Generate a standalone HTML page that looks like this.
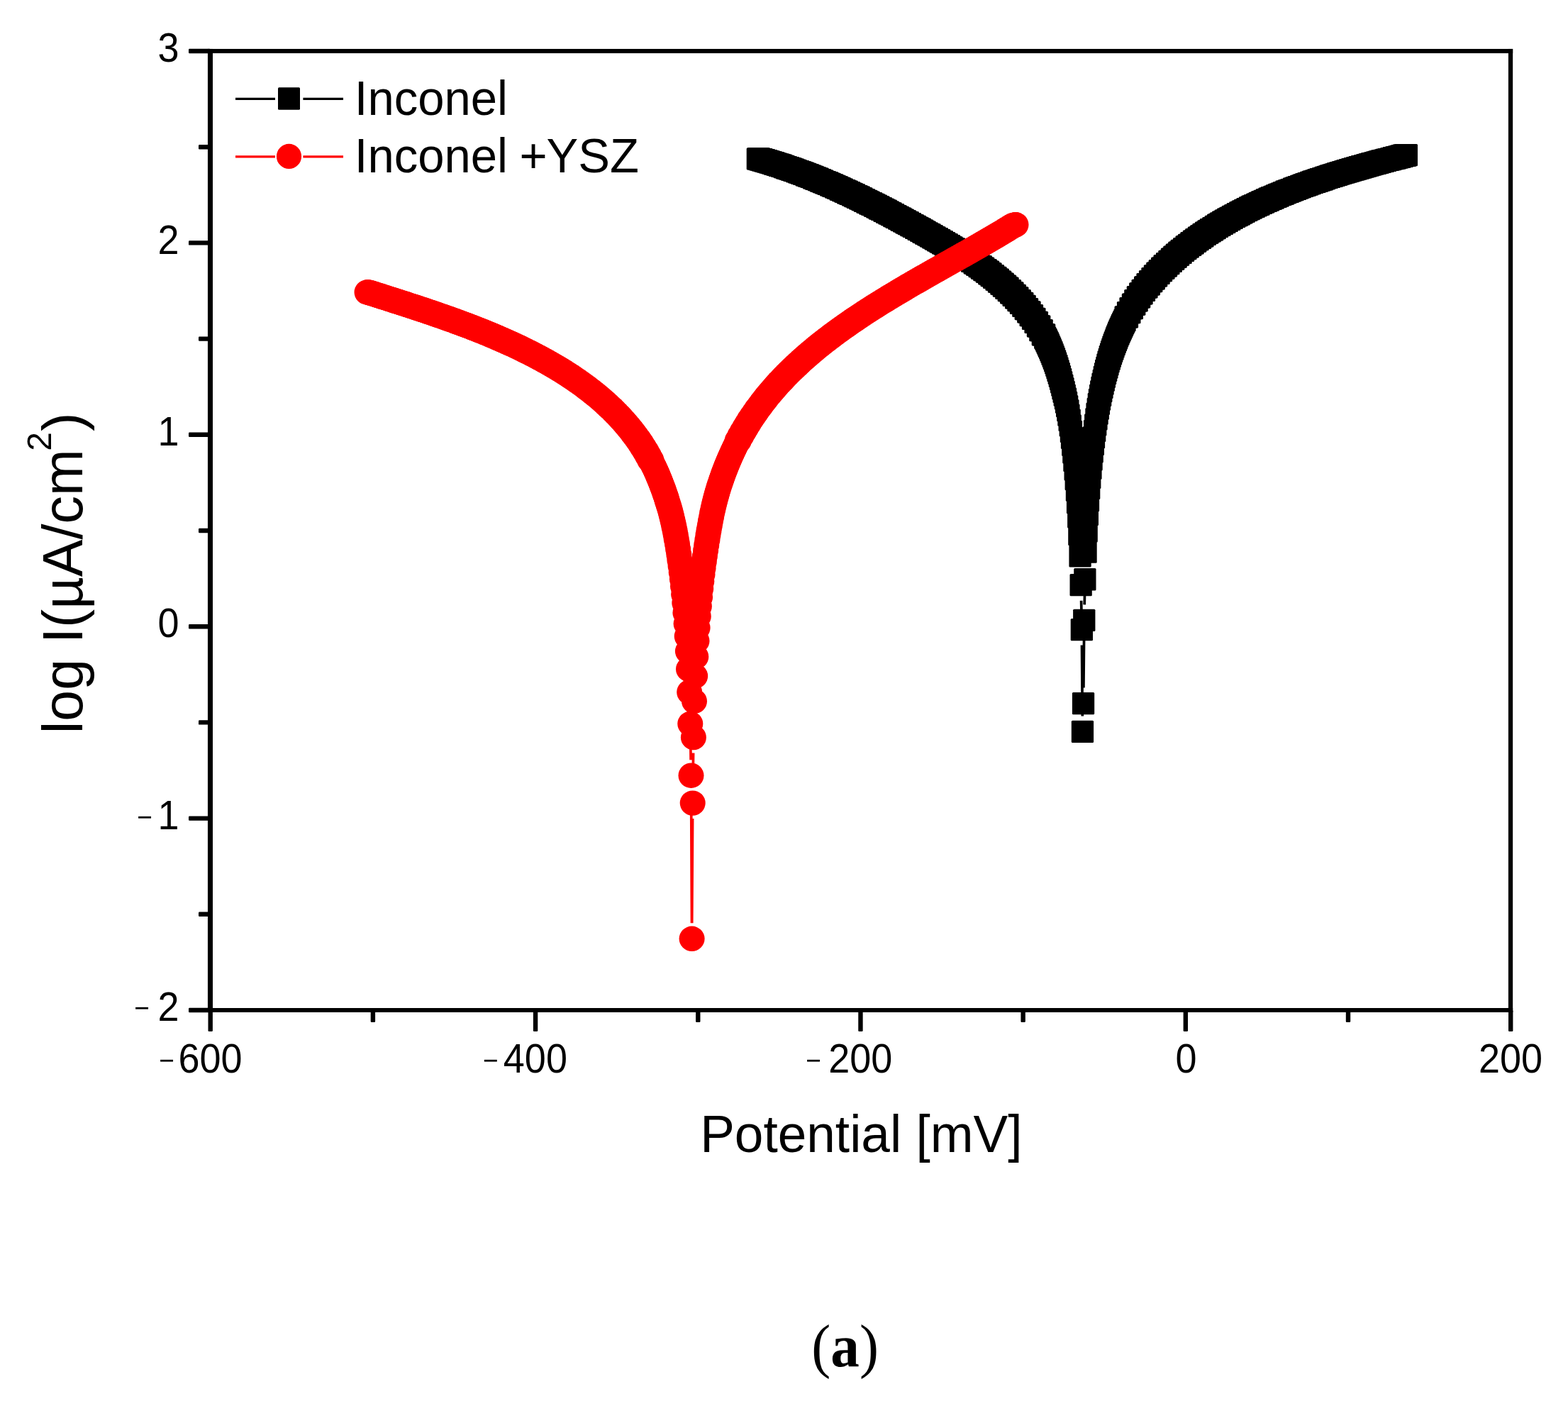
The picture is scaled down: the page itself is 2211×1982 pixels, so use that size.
<!DOCTYPE html>
<html lang="en"><head><meta charset="utf-8"><title>Potentiodynamic polarization curves</title>
<style>html,body{margin:0;padding:0;background:#fff}body{width:2211px;height:1982px;overflow:hidden}svg{display:block}text{font-family:"Liberation Sans",Arial,Helvetica,sans-serif;fill:#000}.t{font-size:54px}.lg{font-size:67px}.mn{font-size:37px}.ser{font-family:"Liberation Serif","Times New Roman",serif}</style></head><body>
<svg width="2211" height="1982" viewBox="0 0 2211 1982">
<rect width="2211" height="1982" fill="#fff"/>
<defs><marker id="sq" markerUnits="userSpaceOnUse" markerWidth="31.3" markerHeight="31.3" refX="15.7" refY="15.7" overflow="visible"><rect width="31.3" height="31.3" rx="1.5" fill="#000"/></marker><marker id="ci" markerUnits="userSpaceOnUse" markerWidth="36" markerHeight="36" refX="18" refY="18" overflow="visible"><ellipse cx="18" cy="18" rx="18" ry="17.7" fill="#f00"/></marker></defs>
<g id="black-series">
<path d="M1524.6 846.7L1525 865.6 M1525.5 909.6L1526.3 1009.5 M1527.9 969.6L1528.6 896.4 M1529.2 852.4L1529.5 838.8" stroke="#000" stroke-width="3.7" fill="none"/>
<polyline points="1068.4,223.9 1069.6,223.9 1070.7,223.9 1071.9,224.8 1073,224.8 1074.1,224.8 1075.3,225.8 1076.4,225.8 1077.6,225.8 1078.7,226.8 1079.9,226.8 1081,226.8 1082.2,227.9 1083.3,227.9 1084.5,227.9 1085.6,228.9 1086.7,228.9 1087.9,228.9 1089,230 1090.2,230 1091.3,230 1092.5,231.1 1093.6,231.1 1094.8,231.1 1095.9,232.2 1097,232.2 1098.2,232.2 1099.3,233.3 1100.5,233.3 1101.6,233.3 1102.8,234.4 1103.9,234.4 1105.1,234.4 1106.2,235.6 1107.4,235.6 1108.5,235.6 1109.6,236.8 1110.8,236.8 1111.9,236.8 1113.1,238 1114.2,238 1115.4,238 1116.5,239.2 1117.7,239.2 1118.8,239.2 1120,240.4 1121.1,240.4 1122.2,240.4 1123.4,241.7 1124.5,241.7 1125.7,241.7 1126.8,242.9 1128,242.9 1129.1,242.9 1130.3,244.2 1131.4,244.2 1132.6,244.2 1133.7,245.5 1134.8,245.5 1136,245.5 1137.1,246.8 1138.3,246.8 1139.4,246.8 1140.6,248.2 1141.7,248.2 1142.9,248.2 1144,249.5 1145.1,249.5 1146.3,249.5 1147.4,250.9 1148.6,250.9 1149.7,250.9 1150.9,252.3 1152,252.3 1153.2,252.3 1154.3,253.7 1155.5,253.7 1156.6,253.7 1157.7,255.1 1158.9,255.1 1160,255.1 1161.2,256.6 1162.3,256.6 1163.5,256.6 1164.6,258 1165.8,258 1166.9,258 1168.1,259.5 1169.2,259.5 1170.3,259.5 1171.5,261 1172.6,261 1173.8,261 1174.9,262.5 1176.1,262.5 1177.2,262.5 1178.4,264 1179.5,264 1180.6,264 1181.8,265.5 1182.9,265.5 1184.1,265.5 1185.2,267.1 1186.4,267.1 1187.5,267.1 1188.7,268.6 1189.8,268.6 1191,268.6 1192.1,270.2 1193.2,270.2 1194.4,270.2 1195.5,271.8 1196.7,271.8 1197.8,271.8 1199,273.4 1200.1,273.4 1201.3,273.4 1202.4,275 1203.6,275 1204.7,275 1205.8,276.7 1207,276.7 1208.1,276.7 1209.3,278.3 1210.4,278.3 1211.6,278.3 1212.7,280 1213.9,280 1215,280 1216.2,281.7 1217.3,281.7 1218.4,281.7 1219.6,283.4 1220.7,283.4 1221.9,283.4 1223,285.1 1224.2,285.1 1225.3,285.1 1226.5,286.8 1227.6,286.8 1228.7,286.8 1229.9,288.5 1231,288.5 1232.2,288.5 1233.3,290.2 1234.5,290.2 1235.6,290.2 1236.8,292 1237.9,292 1239.1,292 1240.2,293.8 1241.3,293.8 1242.5,293.8 1243.6,295.5 1244.8,295.5 1245.9,295.5 1247.1,297.3 1248.2,297.3 1249.4,297.3 1250.5,299.1 1251.7,299.1 1252.8,299.1 1253.9,300.9 1255.1,300.9 1256.2,300.9 1257.4,302.7 1258.5,302.7 1259.7,302.7 1260.8,304.6 1262,304.6 1263.1,304.6 1264.2,306.4 1265.4,306.4 1266.5,306.4 1267.7,308.2 1268.8,308.2 1270,308.2 1271.1,310.1 1272.3,310.1 1273.4,310.1 1274.6,312 1275.7,312 1276.8,312 1278,313.8 1279.1,313.8 1280.3,313.8 1281.4,315.7 1282.6,315.7 1283.7,315.7 1284.9,317.6 1286,317.6 1287.2,317.6 1288.3,319.5 1289.4,319.5 1290.6,319.5 1291.7,321.4 1292.9,321.4 1294,321.4 1295.2,323.3 1296.3,323.3 1297.5,323.3 1298.6,325.2 1299.8,325.2 1300.9,325.2 1302,327.1 1303.2,327.1 1304.3,327.1 1305.5,329.1 1306.6,329.1 1307.8,329.1 1308.9,331 1310.1,331 1311.2,331 1312.3,332.9 1313.5,332.9 1314.6,332.9 1315.8,334.9 1316.9,334.9 1318.1,334.9 1319.2,336.8 1320.4,336.8 1321.5,336.8 1322.7,338.8 1323.8,338.8 1324.9,338.8 1326.1,340.8 1327.2,340.8 1328.4,340.8 1329.5,342.8 1330.7,342.8 1331.8,342.8 1333,344.8 1334.1,344.8 1335.3,344.8 1336.4,346.8 1337.5,346.8 1338.7,346.8 1339.8,348.9 1341,348.9 1342.1,348.9 1343.3,350.9 1344.4,350.9 1345.6,350.9 1346.7,353 1347.8,353 1349,353 1350.1,355.1 1351.3,355.1 1352.4,355.1 1353.6,357.3 1354.7,357.3 1355.9,357.3 1357,359.4 1358.2,359.4 1359.3,359.4 1360.4,361.6 1361.6,361.6 1362.7,361.6 1363.9,363.9 1365,363.9 1366.2,363.9 1367.3,366.1 1368.5,366.1 1369.6,366.1 1370.8,368.4 1371.9,368.4 1373,368.4 1374.2,370.8 1375.3,370.8 1376.5,370.8 1377.6,373.2 1378.8,373.2 1379.9,373.2 1381.1,375.6 1382.2,375.6 1383.3,375.6 1384.5,378.1 1385.6,378.1 1386.8,378.1 1387.9,380.6 1389.1,380.6 1390.2,380.6 1391.4,383.2 1392.5,383.2 1393.7,383.2 1394.8,385.9 1395.9,385.9 1397.1,385.9 1398.2,388.6 1399.4,388.6 1400.5,388.6 1401.7,391.4 1402.8,391.4 1404,391.4 1405.1,394.2 1406.3,394.2 1407.4,394.2 1408.5,397.1 1409.7,397.1 1410.8,397.1 1412,400.1 1413.1,400.1 1414.3,400.1 1415.4,403.2 1416.6,403.2 1417.7,403.2 1418.9,406.3 1420,406.3 1421.1,406.3 1422.3,409.6 1423.4,409.6 1424.6,409.6 1425.7,413 1426.9,413 1428,413 1429.2,416.4 1430.3,416.4 1431.4,416.4 1432.6,420 1433.7,420 1434.9,420 1436,423.7 1437.2,423.7 1438.3,423.7 1439.5,427.5 1440.6,427.5 1441.8,427.5 1442.9,431.5 1444,431.5 1445.2,431.5 1446.3,435.7 1447.5,435.7 1448.6,435.7 1449.8,440 1450.9,440 1452.1,440 1453.2,444.6 1454.4,444.6 1455.5,444.6 1456.6,449.4 1457.8,449.4 1458.9,449.4 1460.1,454.5 1461.2,454.5 1462.4,454.5 1463.5,459.9 1464.7,459.9 1465.8,459.9 1466.9,465.7 1468.1,465.7 1469.2,465.7 1470.4,471.9 1471.5,471.9 1472.7,471.9 1473.8,476.3 1475,478.5 1476.1,480.9 1477.3,483.3 1478.4,485.8 1479.5,488.4 1480.7,491 1481.8,493.7 1483,496.5 1484.1,499.4 1485.3,502.4 1486.4,505.5 1487.6,508.7 1488.7,512 1489.9,515.4 1491,519 1492.1,522.7 1493.3,526.5 1494.4,530.4 1495.6,534.5 1496.7,538.8 1497.9,543.2 1499,547.8 1500.2,552.5 1501.3,557.2 1502.5,562 1503.6,567.2 1504.7,572.7 1505.9,578.7 1507,585.2 1508.2,592.3 1509.3,600 1510.5,608.4 1511.6,617.5 1512.8,627.4 1513.9,638 1515,649.4 1516.2,661.9 1517.3,675.7 1518.5,691.1 1519.6,708.7 1520.8,729 1521.9,753.3 1523.1,783.8 1524.2,824.7 1525.4,887.6 1526.5,1031.5 1527.6,991.6 1528.8,874.4 1529.9,816.8 1531.1,778.1 1532.2,748.9 1533.4,725.3 1534.5,705.6 1535.7,688.4 1536.8,673.4 1538,660.1 1539.1,648 1540.2,636.9 1541.4,626.5 1542.5,616.7 1543.7,607.5 1544.8,598.9 1546,590.8 1547.1,583.2 1548.3,576.1 1549.4,569.4 1550.5,563.2 1551.7,557.3 1552.8,551.7 1554,546.3 1555.1,541.1 1556.3,536.1 1557.4,531.3 1558.6,526.7 1559.7,522.3 1560.9,518.1 1562,514 1563.1,510 1564.3,506.2 1565.4,502.5 1566.6,499 1567.7,495.5 1568.9,492.2 1570,488.9 1571.2,485.7 1572.3,482.7 1573.5,479.7 1574.6,476.8 1575.7,473.9 1576.9,471.2 1578,468.5 1579.2,465.8 1580.3,463.3 1581.5,460.8 1582.6,458.3 1583.8,455.9 1584.9,453.6 1586.1,451.3 1587.2,446.9 1588.3,446.9 1589.5,446.9 1590.6,440.6 1591.8,440.6 1592.9,440.6 1594.1,434.7 1595.2,434.7 1596.4,434.7 1597.5,429.1 1598.6,429.1 1599.8,429.1 1600.9,423.8 1602.1,423.8 1603.2,423.8 1604.4,418.8 1605.5,418.8 1606.7,418.8 1607.8,414 1609,414 1610.1,414 1611.2,409.4 1612.4,409.4 1613.5,409.4 1614.7,405 1615.8,405 1617,405 1618.1,400.8 1619.3,400.8 1620.4,400.8 1621.6,396.7 1622.7,396.7 1623.8,396.7 1625,392.8 1626.1,392.8 1627.3,392.8 1628.4,389 1629.6,389 1630.7,389 1631.9,385.3 1633,385.3 1634.1,385.3 1635.3,381.7 1636.4,381.7 1637.6,381.7 1638.7,378.2 1639.9,378.2 1641,378.2 1642.2,374.8 1643.3,374.8 1644.5,374.8 1645.6,371.6 1646.7,371.6 1647.9,371.6 1649,368.4 1650.2,368.4 1651.3,368.4 1652.5,365.2 1653.6,365.2 1654.8,365.2 1655.9,362.2 1657.1,362.2 1658.2,362.2 1659.3,359.2 1660.5,359.2 1661.6,359.2 1662.8,356.3 1663.9,356.3 1665.1,356.3 1666.2,353.5 1667.4,353.5 1668.5,353.5 1669.7,350.7 1670.8,350.7 1671.9,350.7 1673.1,348 1674.2,348 1675.4,348 1676.5,345.4 1677.7,345.4 1678.8,345.4 1680,342.8 1681.1,342.8 1682.2,342.8 1683.4,340.2 1684.5,340.2 1685.7,340.2 1686.8,337.7 1688,337.7 1689.1,337.7 1690.3,335.3 1691.4,335.3 1692.6,335.3 1693.7,332.9 1694.8,332.9 1696,332.9 1697.1,330.5 1698.3,330.5 1699.4,330.5 1700.6,328.2 1701.7,328.2 1702.9,328.2 1704,326 1705.2,326 1706.3,326 1707.4,323.8 1708.6,323.8 1709.7,323.8 1710.9,321.6 1712,321.6 1713.2,321.6 1714.3,319.4 1715.5,319.4 1716.6,319.4 1717.7,317.3 1718.9,317.3 1720,317.3 1721.2,315.3 1722.3,315.3 1723.5,315.3 1724.6,313.3 1725.8,313.3 1726.9,313.3 1728.1,311.3 1729.2,311.3 1730.3,311.3 1731.5,309.3 1732.6,309.3 1733.8,309.3 1734.9,307.4 1736.1,307.4 1737.2,307.4 1738.4,305.5 1739.5,305.5 1740.7,305.5 1741.8,303.6 1742.9,303.6 1744.1,303.6 1745.2,301.8 1746.4,301.8 1747.5,301.8 1748.7,300 1749.8,300 1751,300 1752.1,298.2 1753.2,298.2 1754.4,298.2 1755.5,296.4 1756.7,296.4 1757.8,296.4 1759,294.7 1760.1,294.7 1761.3,294.7 1762.4,293 1763.6,293 1764.7,293 1765.8,291.3 1767,291.3 1768.1,291.3 1769.3,289.7 1770.4,289.7 1771.6,289.7 1772.7,288.1 1773.9,288.1 1775,288.1 1776.2,286.5 1777.3,286.5 1778.4,286.5 1779.6,284.9 1780.7,284.9 1781.9,284.9 1783,283.4 1784.2,283.4 1785.3,283.4 1786.5,281.8 1787.6,281.8 1788.8,281.8 1789.9,280.3 1791,280.3 1792.2,280.3 1793.3,278.8 1794.5,278.8 1795.6,278.8 1796.8,277.4 1797.9,277.4 1799.1,277.4 1800.2,275.9 1801.3,275.9 1802.5,275.9 1803.6,274.5 1804.8,274.5 1805.9,274.5 1807.1,273.1 1808.2,273.1 1809.4,273.1 1810.5,271.7 1811.7,271.7 1812.8,271.7 1813.9,270.3 1815.1,270.3 1816.2,270.3 1817.4,269 1818.5,269 1819.7,269 1820.8,267.6 1822,267.6 1823.1,267.6 1824.3,266.3 1825.4,266.3 1826.5,266.3 1827.7,265 1828.8,265 1830,265 1831.1,263.7 1832.3,263.7 1833.4,263.7 1834.6,262.4 1835.7,262.4 1836.8,262.4 1838,261.2 1839.1,261.2 1840.3,261.2 1841.4,259.9 1842.6,259.9 1843.7,259.9 1844.9,258.7 1846,258.7 1847.2,258.7 1848.3,257.5 1849.4,257.5 1850.6,257.5 1851.7,256.3 1852.9,256.3 1854,256.3 1855.2,255.1 1856.3,255.1 1857.5,255.1 1858.6,253.9 1859.8,253.9 1860.9,253.9 1862,252.8 1863.2,252.8 1864.3,252.8 1865.5,251.6 1866.6,251.6 1867.8,251.6 1868.9,250.5 1870.1,250.5 1871.2,250.5 1872.4,249.4 1873.5,249.4 1874.6,249.4 1875.8,248.3 1876.9,248.3 1878.1,248.3 1879.2,247.2 1880.4,247.2 1881.5,247.2 1882.7,246.1 1883.8,246.1 1884.9,246.1 1886.1,245 1887.2,245 1888.4,245 1889.5,244 1890.7,244 1891.8,244 1893,242.9 1894.1,242.9 1895.3,242.9 1896.4,241.9 1897.5,241.9 1898.7,241.9 1899.8,240.8 1901,240.8 1902.1,240.8 1903.3,239.8 1904.4,239.8 1905.6,239.8 1906.7,238.8 1907.9,238.8 1909,238.8 1910.1,237.8 1911.3,237.8 1912.4,237.8 1913.6,236.8 1914.7,236.8 1915.9,236.8 1917,235.8 1918.2,235.8 1919.3,235.8 1920.4,234.8 1921.6,234.8 1922.7,234.8 1923.9,233.9 1925,233.9 1926.2,233.9 1927.3,232.9 1928.5,232.9 1929.6,232.9 1930.8,232 1931.9,232 1933,232 1934.2,231 1935.3,231 1936.5,231 1937.6,230.1 1938.8,230.1 1939.9,230.1 1941.1,229.1 1942.2,229.1 1943.4,229.1 1944.5,228.2 1945.6,228.2 1946.8,228.2 1947.9,227.3 1949.1,227.3 1950.2,227.3 1951.4,226.4 1952.5,226.4 1953.7,226.4 1954.8,225.5 1956,225.5 1957.1,225.5 1958.2,224.6 1959.4,224.6 1960.5,224.6 1961.7,223.7 1962.8,223.7 1964,223.7 1965.1,222.8 1966.3,222.8 1967.4,222.8 1968.5,221.9 1969.7,221.9 1970.8,221.9 1972,221.1 1973.1,221.1 1974.3,221.1 1975.4,220.2 1976.6,220.2 1977.7,220.2 1978.9,219.3 1980,219.3 1981.1,219.3 1982.3,218.7 1983.4,218.7" fill="none" stroke="none" marker-start="url(#sq)" marker-mid="url(#sq)" marker-end="url(#sq)"/>
</g>
<g id="red-series">
<path d="M972.7 997.7L972.7 998.3 M973.7 1042.3L974.1 1071.2 M974.6 1115.2L975.5 1301.3 M975.7 1301.3L976.6 1154.1 M977 1110.1L977.6 1061.6 M978.4 1017.6L978.5 1010.5" stroke="#f00" stroke-width="3.7" fill="none"/>
<polyline points="517.5,412 518.7,412 519.8,412 521,412.8 522.1,412.8 523.2,412.8 524.4,413.9 525.5,413.9 526.7,413.9 527.8,415 529,415 530.1,415 531.3,416.1 532.4,416.1 533.6,416.1 534.7,417.2 535.8,417.2 537,417.2 538.1,418.3 539.3,418.3 540.4,418.3 541.6,419.4 542.7,419.4 543.9,419.4 545,420.5 546.2,420.5 547.3,420.5 548.4,421.6 549.6,421.6 550.7,421.6 551.9,422.7 553,422.7 554.2,422.7 555.3,423.8 556.5,423.8 557.6,423.8 558.7,424.9 559.9,424.9 561,424.9 562.2,426 563.3,426 564.5,426 565.6,427.1 566.8,427.1 567.9,427.1 569.1,428.2 570.2,428.2 571.3,428.2 572.5,429.3 573.6,429.3 574.8,429.3 575.9,430.5 577.1,430.5 578.2,430.5 579.4,431.6 580.5,431.6 581.7,431.6 582.8,432.7 583.9,432.7 585.1,432.7 586.2,433.8 587.4,433.8 588.5,433.8 589.7,435 590.8,435 592,435 593.1,436.1 594.2,436.1 595.4,436.1 596.5,437.2 597.7,437.2 598.8,437.2 600,438.4 601.1,438.4 602.3,438.4 603.4,439.6 604.6,439.6 605.7,439.6 606.8,440.7 608,440.7 609.1,440.7 610.3,441.9 611.4,441.9 612.6,441.9 613.7,443.1 614.9,443.1 616,443.1 617.2,444.3 618.3,444.3 619.4,444.3 620.6,445.5 621.7,445.5 622.9,445.5 624,446.7 625.2,446.7 626.3,446.7 627.5,447.9 628.6,447.9 629.7,447.9 630.9,449.1 632,449.1 633.2,449.1 634.3,450.3 635.5,450.3 636.6,450.3 637.8,451.5 638.9,451.5 640.1,451.5 641.2,452.8 642.3,452.8 643.5,452.8 644.6,454.1 645.8,454.1 646.9,454.1 648.1,455.3 649.2,455.3 650.4,455.3 651.5,456.6 652.7,456.6 653.8,456.6 654.9,457.9 656.1,457.9 657.2,457.9 658.4,459.2 659.5,459.2 660.7,459.2 661.8,460.5 663,460.5 664.1,460.5 665.3,461.8 666.4,461.8 667.5,461.8 668.7,463.2 669.8,463.2 671,463.2 672.1,464.5 673.3,464.5 674.4,464.5 675.6,465.9 676.7,465.9 677.8,465.9 679,467.2 680.1,467.2 681.3,467.2 682.4,468.6 683.6,468.6 684.7,468.6 685.9,470 687,470 688.2,470 689.3,471.4 690.4,471.4 691.6,471.4 692.7,472.9 693.9,472.9 695,472.9 696.2,474.3 697.3,474.3 698.5,474.3 699.6,475.8 700.8,475.8 701.9,475.8 703,477.3 704.2,477.3 705.3,477.3 706.5,478.8 707.6,478.8 708.8,478.8 709.9,480.3 711.1,480.3 712.2,480.3 713.3,481.8 714.5,481.8 715.6,481.8 716.8,483.4 717.9,483.4 719.1,483.4 720.2,484.9 721.4,484.9 722.5,484.9 723.7,486.5 724.8,486.5 725.9,486.5 727.1,488.1 728.2,488.1 729.4,488.1 730.5,489.7 731.7,489.7 732.8,489.7 734,491.4 735.1,491.4 736.3,491.4 737.4,493.1 738.5,493.1 739.7,493.1 740.8,494.8 742,494.8 743.1,494.8 744.3,496.5 745.4,496.5 746.6,496.5 747.7,498.2 748.9,498.2 750,498.2 751.1,500 752.3,500 753.4,500 754.6,501.8 755.7,501.8 756.9,501.8 758,503.6 759.2,503.6 760.3,503.6 761.4,505.4 762.6,505.4 763.7,505.4 764.9,507.3 766,507.3 767.2,507.3 768.3,509.2 769.5,509.2 770.6,509.2 771.8,511.1 772.9,511.1 774,511.1 775.2,513.1 776.3,513.1 777.5,513.1 778.6,515.1 779.8,515.1 780.9,515.1 782.1,517.1 783.2,517.1 784.4,517.1 785.5,519.1 786.6,519.1 787.8,519.1 788.9,521.2 790.1,521.2 791.2,521.2 792.4,523.3 793.5,523.3 794.7,523.3 795.8,525.5 796.9,525.5 798.1,525.5 799.2,527.7 800.4,527.7 801.5,527.7 802.7,529.9 803.8,529.9 805,529.9 806.1,532.2 807.3,532.2 808.4,532.2 809.5,534.6 810.7,534.6 811.8,534.6 813,536.9 814.1,536.9 815.3,536.9 816.4,539.3 817.6,539.3 818.7,539.3 819.9,541.8 821,541.8 822.1,541.8 823.3,544.3 824.4,544.3 825.6,544.3 826.7,546.9 827.9,546.9 829,546.9 830.2,549.5 831.3,549.5 832.5,549.5 833.6,552.2 834.7,552.2 835.9,552.2 837,554.9 838.2,554.9 839.3,554.9 840.5,557.7 841.6,557.7 842.8,557.7 843.9,560.6 845,560.6 846.2,560.6 847.3,563.6 848.5,563.6 849.6,563.6 850.8,566.6 851.9,566.6 853.1,566.6 854.2,569.7 855.4,569.7 856.5,569.7 857.6,572.9 858.8,572.9 859.9,572.9 861.1,576.1 862.2,576.1 863.4,576.1 864.5,579.5 865.7,579.5 866.8,579.5 868,583 869.1,583 870.2,583 871.4,586.5 872.5,586.5 873.7,586.5 874.8,590.2 876,590.2 877.1,590.2 878.3,594 879.4,594 880.5,594 881.7,598 882.8,598 884,598 885.1,602.1 886.3,602.1 887.4,602.1 888.6,606.3 889.7,606.3 890.9,606.3 892,610.7 893.1,610.7 894.3,610.7 895.4,615.3 896.6,615.3 897.7,615.3 898.9,620.1 900,620.1 901.2,620.1 902.3,625.1 903.5,625.1 904.6,625.1 905.7,630.4 906.9,630.4 908,630.4 909.2,636 910.3,636 911.5,636 912.6,641.9 913.8,641.9 914.9,641.9 916,648.2 917.2,648.2 918.3,648.2 919.5,652.6 920.6,654.9 921.8,657.2 922.9,659.6 924.1,662 925.2,664.5 926.4,667.1 927.5,669.7 928.6,672.4 929.8,675.2 930.9,678 932.1,680.9 933.2,683.9 934.4,687 935.5,690.1 936.7,693.4 937.8,696.7 939,700.1 940.1,703.6 941.2,707.2 942.4,710.9 943.5,714.6 944.7,718.6 945.8,722.8 947,727.3 948.1,732 949.3,737 950.4,742.3 951.6,747.9 952.7,753.9 953.8,760.3 955,767 956.1,774.1 957.3,781.6 958.4,789.5 959.6,797.9 960.7,806.7 961.9,816.2 963,826.5 964.1,837.7 965.3,850.1 966.4,863.8 967.6,879.3 968.7,897.1 969.9,918 971,943.3 972.2,975.7 973.3,1020.3 974.5,1093.2 975.6,1323.3 976.7,1132.1 977.9,1039.6 979,988.5 980.2,953 981.3,925.7 982.5,903.5 983.6,884.9 984.8,868.7 985.9,854.4 987.1,841.7 988.2,830.1 989.3,819.5 990.5,809.8 991.6,800.7 992.8,792.1 993.9,783.9 995.1,776 996.2,768.4 997.4,761 998.5,754 999.6,747.2 1000.8,740.8 1001.9,734.6 1003.1,728.7 1004.2,723.1 1005.4,717.8 1006.5,712.8 1007.7,708 1008.8,703.5 1010,699.2 1011.1,695.2 1012.2,691.4 1013.4,687.7 1014.5,684.1 1015.7,680.7 1016.8,677.3 1018,674 1019.1,670.8 1020.3,667.6 1021.4,664.6 1022.6,661.6 1023.7,658.6 1024.8,655.8 1026,653 1027.1,650.2 1028.3,647.5 1029.4,644.9 1030.6,642.3 1031.7,639.7 1032.9,637.3 1034,634.8 1035.2,632.4 1036.3,630.1 1037.4,627.7 1038.6,625.5 1039.7,621 1040.9,621 1042,621 1043.2,614.6 1044.3,614.6 1045.5,614.6 1046.6,608.5 1047.7,608.5 1048.9,608.5 1050,602.7 1051.2,602.7 1052.3,602.7 1053.5,597 1054.6,597 1055.8,597 1056.9,591.6 1058.1,591.6 1059.2,591.6 1060.3,586.4 1061.5,586.4 1062.6,586.4 1063.8,581.4 1064.9,581.4 1066.1,581.4 1067.2,576.6 1068.4,576.6 1069.5,576.6 1070.7,571.9 1071.8,571.9 1072.9,571.9 1074.1,567.3 1075.2,567.3 1076.4,567.3 1077.5,562.9 1078.7,562.9 1079.8,562.9 1081,558.6 1082.1,558.6 1083.2,558.6 1084.4,554.5 1085.5,554.5 1086.7,554.5 1087.8,550.4 1089,550.4 1090.1,550.4 1091.3,546.5 1092.4,546.5 1093.6,546.5 1094.7,542.6 1095.8,542.6 1097,542.6 1098.1,538.8 1099.3,538.8 1100.4,538.8 1101.6,535.2 1102.7,535.2 1103.9,535.2 1105,531.6 1106.2,531.6 1107.3,531.6 1108.4,528 1109.6,528 1110.7,528 1111.9,524.6 1113,524.6 1114.2,524.6 1115.3,521.2 1116.5,521.2 1117.6,521.2 1118.8,517.9 1119.9,517.9 1121,517.9 1122.2,514.7 1123.3,514.7 1124.5,514.7 1125.6,511.5 1126.8,511.5 1127.9,511.5 1129.1,508.3 1130.2,508.3 1131.3,508.3 1132.5,505.3 1133.6,505.3 1134.8,505.3 1135.9,502.2 1137.1,502.2 1138.2,502.2 1139.4,499.3 1140.5,499.3 1141.7,499.3 1142.8,496.3 1143.9,496.3 1145.1,496.3 1146.2,493.5 1147.4,493.5 1148.5,493.5 1149.7,490.6 1150.8,490.6 1152,490.6 1153.1,487.8 1154.3,487.8 1155.4,487.8 1156.5,485.1 1157.7,485.1 1158.8,485.1 1160,482.3 1161.1,482.3 1162.3,482.3 1163.4,479.7 1164.6,479.7 1165.7,479.7 1166.8,477 1168,477 1169.1,477 1170.3,474.4 1171.4,474.4 1172.6,474.4 1173.7,471.8 1174.9,471.8 1176,471.8 1177.2,469.3 1178.3,469.3 1179.4,469.3 1180.6,466.8 1181.7,466.8 1182.9,466.8 1184,464.3 1185.2,464.3 1186.3,464.3 1187.5,461.8 1188.6,461.8 1189.8,461.8 1190.9,459.4 1192,459.4 1193.2,459.4 1194.3,457 1195.5,457 1196.6,457 1197.8,454.6 1198.9,454.6 1200.1,454.6 1201.2,452.2 1202.3,452.2 1203.5,452.2 1204.6,449.9 1205.8,449.9 1206.9,449.9 1208.1,447.6 1209.2,447.6 1210.4,447.6 1211.5,445.3 1212.7,445.3 1213.8,445.3 1214.9,443 1216.1,443 1217.2,443 1218.4,440.7 1219.5,440.7 1220.7,440.7 1221.8,438.5 1223,438.5 1224.1,438.5 1225.3,436.3 1226.4,436.3 1227.5,436.3 1228.7,434.1 1229.8,434.1 1231,434.1 1232.1,431.9 1233.3,431.9 1234.4,431.9 1235.6,429.8 1236.7,429.8 1237.9,429.8 1239,427.6 1240.1,427.6 1241.3,427.6 1242.4,425.5 1243.6,425.5 1244.7,425.5 1245.9,423.4 1247,423.4 1248.2,423.4 1249.3,421.3 1250.4,421.3 1251.6,421.3 1252.7,419.2 1253.9,419.2 1255,419.2 1256.2,417.1 1257.3,417.1 1258.5,417.1 1259.6,415 1260.8,415 1261.9,415 1263,413 1264.2,413 1265.3,413 1266.5,410.9 1267.6,410.9 1268.8,410.9 1269.9,408.9 1271.1,408.9 1272.2,408.9 1273.4,406.9 1274.5,406.9 1275.6,406.9 1276.8,404.8 1277.9,404.8 1279.1,404.8 1280.2,402.8 1281.4,402.8 1282.5,402.8 1283.7,400.8 1284.8,400.8 1285.9,400.8 1287.1,398.8 1288.2,398.8 1289.4,398.8 1290.5,396.9 1291.7,396.9 1292.8,396.9 1294,394.9 1295.1,394.9 1296.3,394.9 1297.4,392.9 1298.5,392.9 1299.7,392.9 1300.8,390.9 1302,390.9 1303.1,390.9 1304.3,389 1305.4,389 1306.6,389 1307.7,387 1308.9,387 1310,387 1311.1,385.1 1312.3,385.1 1313.4,385.1 1314.6,383.1 1315.7,383.1 1316.9,383.1 1318,381.2 1319.2,381.2 1320.3,381.2 1321.5,379.3 1322.6,379.3 1323.7,379.3 1324.9,377.3 1326,377.3 1327.2,377.3 1328.3,375.4 1329.5,375.4 1330.6,375.4 1331.8,373.4 1332.9,373.4 1334,373.4 1335.2,371.5 1336.3,371.5 1337.5,371.5 1338.6,369.6 1339.8,369.6 1340.9,369.6 1342.1,367.6 1343.2,367.6 1344.4,367.6 1345.5,365.7 1346.6,365.7 1347.8,365.7 1348.9,363.8 1350.1,363.8 1351.2,363.8 1352.4,361.8 1353.5,361.8 1354.7,361.8 1355.8,359.9 1357,359.9 1358.1,359.9 1359.2,357.9 1360.4,357.9 1361.5,357.9 1362.7,356 1363.8,356 1365,356 1366.1,354.1 1367.3,354.1 1368.4,354.1 1369.5,352.1 1370.7,352.1 1371.8,352.1 1373,350.1 1374.1,350.1 1375.3,350.1 1376.4,348.2 1377.6,348.2 1378.7,348.2 1379.9,346.2 1381,346.2 1382.1,346.2 1383.3,344.2 1384.4,344.2 1385.6,344.2 1386.7,342.2 1387.9,342.2 1389,342.2 1390.2,340.2 1391.3,340.2 1392.5,340.2 1393.6,338.2 1394.7,338.2 1395.9,338.2 1397,336.2 1398.2,336.2 1399.3,336.2 1400.5,334.2 1401.6,334.2 1402.8,334.2 1403.9,332.2 1405,332.2 1406.2,332.2 1407.3,330.1 1408.5,330.1 1409.6,330.1 1410.8,328.1 1411.9,328.1 1413.1,328.1 1414.2,326 1415.4,326 1416.5,326 1417.6,323.9 1418.8,323.9 1419.9,323.9 1421.1,321.8 1422.2,321.8 1423.4,321.8 1424.5,319.7 1425.7,319.7 1426.8,319.7 1428,317.6 1429.1,317.6 1430.2,317.6 1431.4,316.8 1432.5,316.8" fill="none" stroke="none" marker-start="url(#ci)" marker-mid="url(#ci)" marker-end="url(#ci)"/>
</g>
<g id="axes" fill="#000">
<rect x="292.95" y="68.95" width="1840.2" height="6.1"/>
<rect x="292.95" y="1421" width="1840.2" height="6"/>
<rect x="292.95" y="68.95" width="7.05" height="1358.05"/>
<rect x="2126.9" y="68.95" width="6.25" height="1358.05"/>
<rect x="266" y="68.8" width="30.5" height="6.4" rx="1.2"/>
<rect x="280" y="204" width="16.5" height="6.4" rx="1.2"/>
<rect x="266" y="339.2" width="30.5" height="6.4" rx="1.2"/>
<rect x="280" y="474.4" width="16.5" height="6.4" rx="1.2"/>
<rect x="266" y="609.6" width="30.5" height="6.4" rx="1.2"/>
<rect x="280" y="744.8" width="16.5" height="6.4" rx="1.2"/>
<rect x="266" y="880" width="30.5" height="6.4" rx="1.2"/>
<rect x="280" y="1015.2" width="16.5" height="6.4" rx="1.2"/>
<rect x="266" y="1150.4" width="30.5" height="6.4" rx="1.2"/>
<rect x="280" y="1285.6" width="16.5" height="6.4" rx="1.2"/>
<rect x="266" y="1420.8" width="30.5" height="6.4" rx="1.2"/>
<rect x="293.5" y="1424" width="6.4" height="30" rx="1.2"/>
<rect x="522.69" y="1424" width="6.4" height="17" rx="1.2"/>
<rect x="751.88" y="1424" width="6.4" height="30" rx="1.2"/>
<rect x="981.06" y="1424" width="6.4" height="17" rx="1.2"/>
<rect x="1210.25" y="1424" width="6.4" height="30" rx="1.2"/>
<rect x="1439.44" y="1424" width="6.4" height="17" rx="1.2"/>
<rect x="1668.62" y="1424" width="6.4" height="30" rx="1.2"/>
<rect x="1897.81" y="1424" width="6.4" height="17" rx="1.2"/>
<rect x="2127" y="1424" width="6.4" height="30" rx="1.2"/>
</g>
<g id="ticklabels" class="t">
<text transform="scale(1 1.055)" text-anchor="end"><tspan x="252.5" y="82.7">3</tspan></text>
<text transform="scale(1 1.055)" text-anchor="end"><tspan x="252.5" y="339">2</tspan></text>
<text transform="scale(1 1.055)" text-anchor="end"><tspan x="252.5" y="595.3">1</tspan></text>
<text transform="scale(1 1.055)" text-anchor="end"><tspan x="252.5" y="851.6">0</tspan></text>
<text transform="scale(1 1.055)" text-anchor="end"><tspan class="mn" text-anchor="middle" x="204" y="1104.5">−</tspan><tspan x="252.5" y="1107.9">1</tspan></text>
<text transform="scale(1 1.055)" text-anchor="end"><tspan class="mn" text-anchor="middle" x="200" y="1359.5">−</tspan><tspan x="252.5" y="1364.2">2</tspan></text>
<text transform="scale(1 1.055)" text-anchor="middle"><tspan class="mn" text-anchor="middle" x="235" y="1429.7">−</tspan><tspan x="296.5" y="1432.9">600</tspan></text>
<text transform="scale(1 1.055)" text-anchor="middle"><tspan class="mn" text-anchor="middle" x="691.8" y="1429.7">−</tspan><tspan x="754.9" y="1432.9">400</tspan></text>
<text transform="scale(1 1.055)" text-anchor="middle"><tspan class="mn" text-anchor="middle" x="1147" y="1429.7">−</tspan><tspan x="1213.2" y="1432.9">200</tspan></text>
<text transform="scale(1 1.055)" text-anchor="middle"><tspan x="1672.6" y="1432.9">0</tspan></text>
<text transform="scale(1 1.055)" text-anchor="middle"><tspan x="2130" y="1432.9">200</tspan></text>
</g>
<text transform="translate(1214.3 1623.7) scale(1 1.02)" text-anchor="middle" font-size="73">Potential [mV]</text>
<text transform="translate(116 1034.3) rotate(-90) scale(1 1.02)" font-size="79">log I(µA/cm<tspan font-size="48" dy="-43" dx="-2.5">2</tspan><tspan dy="43" dx="1">)</tspan></text>
<g id="legend">
<path d="M332 139.3H388M427.4 139.3H484" stroke="#000" stroke-width="3.2"/>
<rect x="392" y="123.3" width="31" height="31.5" rx="1.5" fill="#000"/>
<path d="M332 220.8H388M427.4 220.8H484" stroke="#f00" stroke-width="3.2"/>
<circle cx="407.5" cy="220.4" r="17.6" fill="#f00"/>
<text transform="translate(499.8 162.2) scale(1 1.02)" class="lg">Inconel</text>
<text transform="translate(499.8 242.9) scale(1 1.02)" class="lg">Inconel <tspan dx="-2">+</tspan><tspan dx="-1">YSZ</tspan></text>
</g>
<text transform="translate(1144.3 1925.6) scale(0.955 1)" class="ser" font-size="85">(<tspan font-weight="bold">a</tspan>)</text>
</svg></body></html>
